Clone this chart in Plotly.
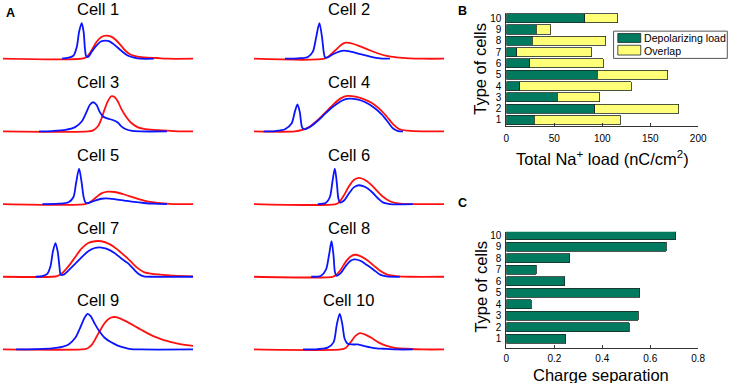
import plotly.graph_objects as go

# ---------------- Panel A: normalised traces (time in a.u., amplitude 0..1) ----------------
cell1_blue = [(180,0),(200,.03),(215,.09),(225,.33),(232,.75),(240,1.0),(246,.75),(250,.28),(254,.07),(260,.05),(270,.19),(285,.37),(300,.49),(312,.51),(325,.49),(340,.39),(360,.23),(380,.09),(400,.03),(420,0),(460,0)]
cell1_red = [(0,0),(240,0),(255,.05),(270,.23),(285,.47),(300,.61),(315,.65),(330,.62),(345,.52),(360,.37),(375,.21),(390,.11),(410,.06),(440,.03),(470,.02),(500,0),(580,0)]

cell2_blue = [(95,0),(135,.01),(165,.05),(180,.2),(190,.6),(200,1.0),(208,.6),(213,.2),(217,.04),(225,.04),(240,.12),(260,.2),(275,.23),(295,.2),(325,.13),(355,.06),(385,.01),(415,0)]
cell2_red = [(0,0),(215,0),(230,.08),(250,.25),(265,.38),(280,.45),(295,.44),(315,.38),(345,.27),(375,.16),(405,.08),(435,.04),(475,.01),(515,0),(580,0)]

cell3_blue = [(110,0),(150,.01),(190,.04),(220,.12),(240,.28),(255,.55),(265,.75),(275,.82),(285,.75),(295,.55),(305,.42),(320,.36),(335,.32),(350,.25),(360,.15),(375,.06),(390,.02),(420,0),(500,0)]
cell3_red = [(0,0),(260,0),(275,.03),(290,.15),(300,.35),(310,.62),(320,.85),(330,.99),(340,.97),(350,.85),(360,.65),(375,.42),(390,.25),(410,.12),(430,.07),(460,.04),(500,.02),(540,0),(580,0)]

cell4_blue = [(30,0),(65,.01),(95,.06),(115,.22),(125,.55),(133,.76),(140,.55),(147,.12),(153,.06),(170,.12),(195,.3),(220,.52),(245,.72),(270,.87),(290,.92),(315,.9),(340,.82),(365,.68),(390,.48),(410,.25),(425,.08),(440,.01),(455,0)]
cell4_red = [(0,0),(125,0),(150,.05),(170,.13),(195,.32),(220,.55),(245,.78),(265,.93),(285,1.0),(310,.98),(335,.91),(360,.8),(385,.62),(405,.42),(425,.2),(445,.06),(470,.02),(515,0),(580,0)]

cell5_blue = [(120,0),(170,.01),(200,.05),(215,.2),(223,.6),(232,1.0),(240,.6),(246,.2),(252,.04),(260,.03),(280,.1),(300,.15),(315,.16),(340,.14),(370,.1),(400,.06),(430,.03),(460,.01),(500,0)]
cell5_red = [(0,0),(250,0),(265,.05),(285,.2),(300,.3),(320,.35),(340,.34),(370,.27),(400,.18),(430,.1),(460,.05),(490,.02),(520,0),(580,0)]

cell6_blue = [(195,0),(220,.04),(232,.2),(240,.65),(247,1.0),(253,.6),(258,.15),(263,.04),(275,.1),(290,.3),(305,.47),(320,.53),(340,.48),(360,.34),(380,.15),(395,.04),(415,0),(485,0)]
cell6_red = [(0,0),(250,0),(260,.05),(275,.25),(290,.5),(305,.68),(320,.74),(335,.7),(355,.57),(375,.38),(395,.2),(415,.08),(440,.02),(475,0),(580,0)]

cell7_blue = [(100,0),(120,.02),(135,.08),(145,.3),(152,.7),(160,.95),(167,.7),(172,.3),(176,.06),(185,.06),(200,.18),(220,.36),(240,.55),(260,.72),(280,.81),(295,.83),(315,.79),(340,.67),(360,.52),(380,.39),(400,.2),(415,.07),(430,.01),(460,0),(580,0)]
cell7_red = [(0,0),(150,0),(165,.02),(180,.1),(200,.3),(220,.55),(240,.8),(260,.95),(280,1.0),(300,1.0),(320,.94),(340,.83),(360,.68),(380,.52),(395,.38),(410,.25),(430,.13),(455,.08),(480,.06),(520,.03),(580,.01)]

cell8_blue = [(175,0),(205,.03),(220,.2),(230,.65),(237,1.0),(243,.6),(247,.15),(252,.03),(265,.1),(280,.3),(295,.45),(307,.49),(325,.45),(345,.33),(365,.2),(385,.06),(405,.01),(445,0)]
cell8_red = [(0,0),(240,0),(250,.04),(265,.2),(280,.42),(295,.57),(308,.62),(325,.58),(345,.47),(365,.32),(385,.17),(405,.07),(435,.02),(475,0),(580,0)]

cell9_blue = [(40,0),(100,.01),(150,.03),(180,.07),(200,.14),(220,.32),(235,.6),(248,.88),(258,1.0),(268,.93),(280,.72),(295,.5),(310,.33),(330,.2),(350,.11),(370,.05),(390,.01),(420,0),(580,0)]
cell9_red = [(0,0),(240,0),(255,.02),(270,.12),(285,.35),(300,.6),(315,.8),(330,.9),(345,.91),(360,.86),(380,.77),(400,.67),(420,.56),(440,.46),(460,.37),(480,.3),(500,.24),(520,.19),(540,.15),(560,.12),(580,.1)]

cell10_blue = [(150,0),(195,.01),(225,.05),(243,.2),(253,.7),(262,1.0),(270,.7),(277,.3),(285,.17),(300,.14),(315,.14),(335,.1),(355,.06),(375,.03),(395,.02),(435,0),(485,0)]
cell10_red = [(0,0),(265,0),(280,.04),(295,.2),(310,.38),(323,.46),(340,.42),(360,.32),(380,.2),(405,.1),(435,.04),(465,.02),(515,0),(580,0)]

cell_titles = ["Cell 1", "Cell 2", "Cell 3", "Cell 4", "Cell 5",
               "Cell 6", "Cell 7", "Cell 8", "Cell 9", "Cell 10"]

# ---------------- Panel B / C data ----------------
cell_types = [1, 2, 3, 4, 5, 6, 7, 8, 9, 10]
depolarizing_load = [29.2, 91.9, 53.2, 13.7, 94.7, 24.4, 10.6, 27.1, 31.2, 81.6]
overlap_load = [89.5, 87.9, 44.2, 116.3, 73.7, 76.5, 78.3, 76.5, 15.1, 34.4]
charge_separation = [0.247, 0.512, 0.550, 0.104, 0.557, 0.243, 0.125, 0.265, 0.666, 0.707]
b_ticks = [0, 50, 100, 150, 200]
c_ticks = [0, 0.2, 0.4, 0.6, 0.8]

W, H = 737, 383
FONT = "Liberation Sans, Arial, sans-serif"
BLUE = "#0a14ff"
RED = "#ff1010"
GREEN = "#007a5e"
YELLOW = "#ffff78"
EDGE = "#1e2a26"


def fx(px):
    return px / W


def fy(py):
    return 1 - py / H


cells = [(cell1_blue, cell1_red), (cell2_blue, cell2_red), (cell3_blue, cell3_red),
         (cell4_blue, cell4_red), (cell5_blue, cell5_red), (cell6_blue, cell6_red),
         (cell7_blue, cell7_red), (cell8_blue, cell8_red), (cell9_blue, cell9_red),
         (cell10_blue, cell10_red)]

fig = go.Figure()
layout = dict(width=W, height=H, margin=dict(l=0, r=0, t=0, b=0),
              paper_bgcolor="white", plot_bgcolor="white", showlegend=False,
              font=dict(family=FONT, color="black"), barmode="stack")
annotations = []
shapes = []

UNIT = 35.7  # px per unit amplitude
for i, (blue, red) in enumerate(cells):
    n = i + 1
    col = i % 2
    row = i // 2
    x0, x1 = (0.0, 193.3) if col == 0 else (255.0, 448.3)
    base = 57 + 73.07 * row
    ylo, yhi = -0.12, 1.2
    xa = "xaxis" if n == 1 else f"xaxis{n}"
    ya = "yaxis" if n == 1 else f"yaxis{n}"
    xr = "x" if n == 1 else f"x{n}"
    yr = "y" if n == 1 else f"y{n}"
    layout[xa] = dict(domain=[fx(x0), fx(x1)], range=[0, 580], visible=False, anchor=yr)
    layout[ya] = dict(domain=[fy(base - ylo * UNIT), fy(base - yhi * UNIT)],
                      range=[ylo, yhi], visible=False, anchor=xr)
    for series, color, name in ((red, RED, "K⁺ current"), (blue, BLUE, "Na⁺ current")):
        fig.add_trace(go.Scatter(
            x=[p[0] for p in series], y=[p[1] for p in series], mode="lines",
            line=dict(color=color, width=1.8, shape="spline", smoothing=0.8),
            name=name, xaxis=xr, yaxis=yr, hoverinfo="skip"))
    annotations.append(dict(x=fx((x0 + x1) / 2), y=fy(base - 49.5), xref="paper", yref="paper",
                            text=cell_titles[i], showarrow=False, xanchor="center",
                            yanchor="middle", font=dict(size=16.5, family=FONT)))

# ---------------- Panel B ----------------
fig.add_trace(go.Bar(y=cell_types, x=depolarizing_load, orientation="h", name="Depolarizing load",
                     marker=dict(color=GREEN, line=dict(color=EDGE, width=0.8)), width=0.8,
                     xaxis="x11", yaxis="y11"))
fig.add_trace(go.Bar(y=cell_types, x=overlap_load, orientation="h", name="Overlap",
                     marker=dict(color=YELLOW, line=dict(color=EDGE, width=0.8)), width=0.8,
                     xaxis="x11", yaxis="y11"))
# ---------------- Panel C ----------------
fig.add_trace(go.Bar(y=cell_types, x=charge_separation, orientation="h", name="Charge separation",
                     marker=dict(color=GREEN, line=dict(color=EDGE, width=0.8)), width=0.8,
                     xaxis="x12", yaxis="y12"))

ax_common = dict(showline=True, linecolor="#333333", linewidth=1, showgrid=False, zeroline=False,
                 tickfont=dict(size=10, family=FONT, color="black"))
layout["xaxis11"] = dict(domain=[fx(511.7), fx(706.7)], range=[0, 200], tickvals=b_ticks,
                         ticks="inside", ticklen=3, tickcolor="#333333", anchor="y11",
                         ticklabelstandoff=3, **ax_common)
layout["yaxis11"] = dict(domain=[fy(124.3), fy(10.6)], range=[0.5, 10.5], tickvals=cell_types,
                         ticks="", anchor="x11", ticklabelstandoff=2, **ax_common)
layout["xaxis12"] = dict(domain=[fx(511.7), fx(706.7)], range=[0, 0.8], tickvals=c_ticks,
                         ticktext=["0", "0.2", "0.4", "0.6", "0.8"],
                         ticks="inside", ticklen=3, tickcolor="#333333", anchor="y12",
                         ticklabelstandoff=1, **ax_common)
layout["yaxis12"] = dict(domain=[fy(347.5), fy(231)], range=[0.22, 10.3], tickvals=cell_types,
                         ticks="", anchor="x12", ticklabelstandoff=2, **ax_common)

# axis titles
title_font = dict(size=16.5, family=FONT, color="black")
annotations += [
    dict(x=fx(485), y=fy(67), text="Type of cells", textangle=-90, font=title_font),
    dict(x=fx(609), y=fy(157), text="Total Na<sup>+</sup> load (nC/cm<sup>2</sup>)", font=title_font),
    dict(x=fx(485), y=fy(286), text="Type of cells", textangle=-90, font=title_font),
    dict(x=fx(608), y=fy(374.5), text="Charge separation", font=title_font),
]
# panel letters
letter_font = dict(size=12.5, family=FONT, color="black")
annotations += [
    dict(x=fx(7.5), y=fy(11), text="<b>A</b>", font=letter_font),
    dict(x=fx(467), y=fy(9), text="<b>B</b>", font=letter_font),
    dict(x=fx(467.5), y=fy(202), text="<b>C</b>", font=letter_font),
]
for a in annotations[-7:]:
    a.update(xref="paper", yref="paper", showarrow=False, xanchor="center", yanchor="middle")

# manual legend for panel B
shapes += [
    dict(type="rect", xref="paper", yref="paper", x0=fx(620.7), x1=fx(736.3), y0=fy(56.7), y1=fy(29.3),
         line=dict(color="#555555", width=1), fillcolor="white"),
    dict(type="rect", xref="paper", yref="paper", x0=fx(625), x1=fx(648.3), y0=fy(40.7), y1=fy(31.7),
         line=dict(color=EDGE, width=0.8), fillcolor=GREEN),
    dict(type="rect", xref="paper", yref="paper", x0=fx(625), x1=fx(648.3), y0=fy(53.3), y1=fy(43.5),
         line=dict(color=EDGE, width=0.8), fillcolor=YELLOW),
]
legend_font = dict(size=10.6, family=FONT, color="black")
annotations += [
    dict(x=fx(650), y=fy(35.8), text="Depolarizing load", xref="paper", yref="paper",
         showarrow=False, xanchor="left", yanchor="middle", font=legend_font),
    dict(x=fx(650), y=fy(49.3), text="Overlap", xref="paper", yref="paper",
         showarrow=False, xanchor="left", yanchor="middle", font=legend_font),
]

layout["annotations"] = annotations
layout["shapes"] = shapes
fig.update_layout(**layout)
fig.write_html("out.html", config={"displayModeBar": False},
               post_script="document.body.style.margin='0';document.body.style.overflow='hidden';")
